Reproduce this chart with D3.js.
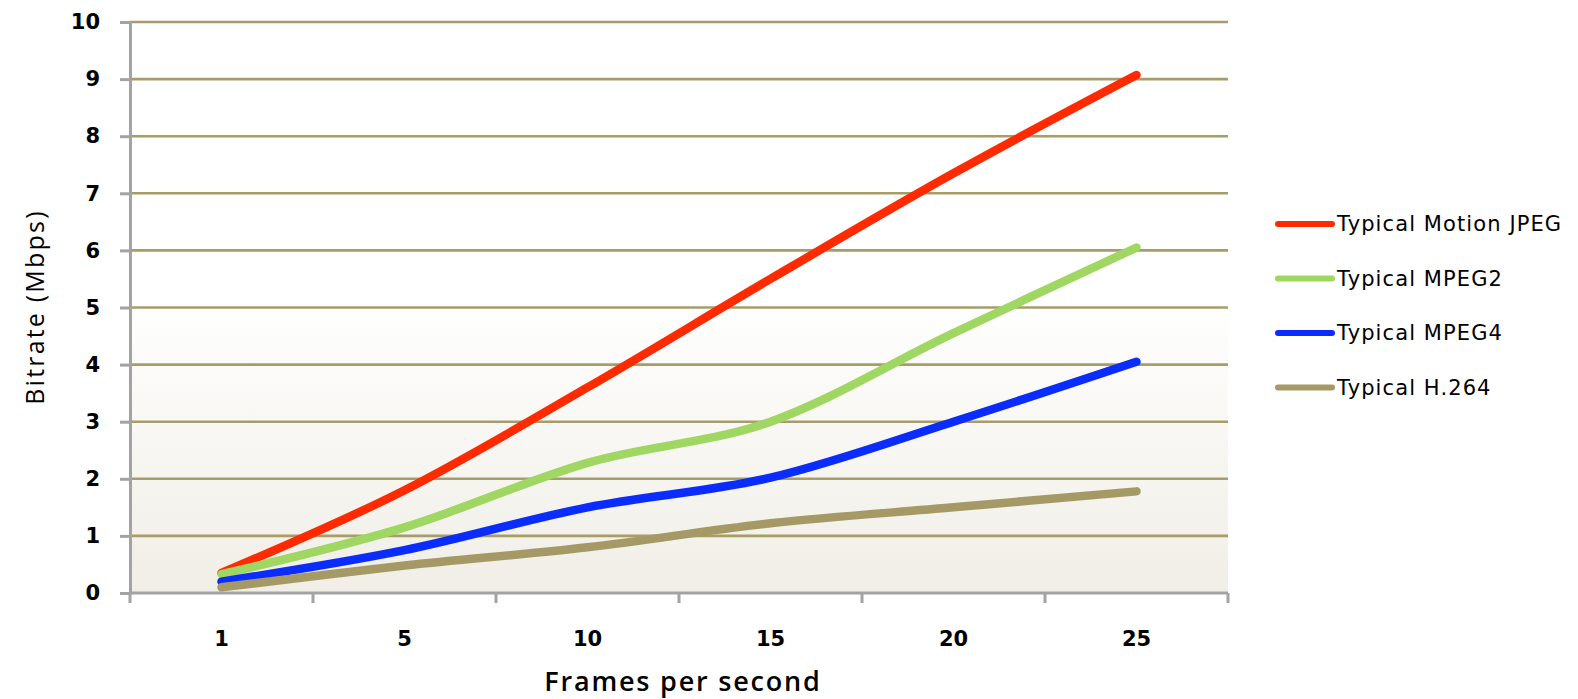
<!DOCTYPE html>
<html>
<head>
<meta charset="utf-8">
<script src="https://cdn.jsdelivr.net/npm/d3@7"></script>
<style>
  html, body { margin: 0; padding: 0; background: #fff; }
</style>
</head>
<body>
<script>
// chart values
const fps = ["1", "5", "10", "15", "20", "25"];
const motionJpeg = [0.35, 1.8, 3.6, 5.5, 7.35, 9.07];
const mpeg2 = [0.33, 1.15, 2.28, 3.0, 4.55, 6.05];
const mpeg4 = [0.2, 0.75, 1.5, 2.02, 3.0, 4.05];
const h264 = [0.1, 0.48, 0.8, 1.22, 1.5, 1.78];
const yTicks = [0, 1, 2, 3, 4, 5, 6, 7, 8, 9, 10];

const series = [
  { name: "Typical Motion JPEG", values: motionJpeg, color: "#ff2a00" },
  { name: "Typical MPEG2", values: mpeg2, color: "#a0d662" },
  { name: "Typical MPEG4", values: mpeg4, color: "#0b2cff" },
  { name: "Typical H.264", values: h264, color: "#a59a66" }
];

const width = 1578, height = 699;
const plotLeft = 130, plotRight = 1228, plotTop = 22, plotBottom = 593;

const svg = d3.select("body").append("svg")
  .attr("width", width)
  .attr("height", height);

let x = d3.scaleBand().domain(fps).range([plotLeft, plotRight]);
let y = d3.scaleLinear().domain([0, 10]).range([plotBottom, plotTop]);

// background gradient of the plot area
let grad = svg.append("defs").append("linearGradient")
  .attr("id", "bg").attr("x1", 0).attr("y1", 0).attr("x2", 0).attr("y2", 1);
grad.append("stop").attr("offset", "0%").attr("stop-color", "#ffffff");
grad.append("stop").attr("offset", "48%").attr("stop-color", "#ffffff");
grad.append("stop").attr("offset", "100%").attr("stop-color", "#f0eee6");

svg.append("rect")
  .attr("x", plotLeft).attr("y", plotTop)
  .attr("width", plotRight - plotLeft).attr("height", plotBottom - plotTop)
  .attr("fill", "url(#bg)");

// gridlines
svg.append("g")
  .selectAll("line")
  .data(yTicks.filter(d => d > 0))
  .join("line")
  .attr("x1", plotLeft).attr("x2", plotRight)
  .attr("y1", d => y(d)).attr("y2", d => y(d))
  .attr("stroke", "#a89d69")
  .attr("stroke-width", 2.6);

// y axis
let yAxis = svg.append("g")
  .attr("transform", `translate(${plotLeft},0)`)
  .call(d3.axisLeft(y).tickValues(yTicks).tickSize(10).tickPadding(20));
yAxis.select(".domain").attr("stroke", "#a3a3a3").attr("stroke-width", 3);
yAxis.selectAll(".tick line").attr("stroke", "#a3a3a3").attr("stroke-width", 3);
yAxis.selectAll("text")
  .style("font-family", "DejaVu Sans")
  .style("font-weight", "bold")
  .style("font-size", "21px")
  .attr("fill", "#000");

// x axis with ticks between categories
let xAxis = svg.append("g")
  .attr("transform", `translate(0,${plotBottom})`);
xAxis.append("line")
  .attr("x1", plotLeft).attr("x2", plotRight)
  .attr("stroke", "#a3a3a3").attr("stroke-width", 3);
xAxis.selectAll(".tk")
  .data(fps.concat(["end"]))
  .join("line")
  .attr("class", "tk")
  .attr("x1", (d, i) => plotLeft + i * x.bandwidth())
  .attr("x2", (d, i) => plotLeft + i * x.bandwidth())
  .attr("y1", 0).attr("y2", 10)
  .attr("stroke", "#a3a3a3").attr("stroke-width", 3);
xAxis.selectAll("text")
  .data(fps)
  .join("text")
  .attr("x", d => x(d) + x.bandwidth() / 2)
  .attr("y", 53)
  .attr("text-anchor", "middle")
  .style("font-family", "DejaVu Sans")
  .style("font-weight", "bold")
  .style("font-size", "21px")
  .text(d => d);

// series lines
let line = d3.line()
  .x((d, i) => x(fps[i]) + x.bandwidth() / 2)
  .y(d => y(d))
  .curve(d3.curveCatmullRom.alpha(0));

svg.append("g")
  .selectAll("path")
  .data(series)
  .join("path")
  .attr("d", d => line(d.values))
  .attr("fill", "none")
  .attr("stroke", d => d.color)
  .attr("stroke-width", 8.5)
  .attr("stroke-linecap", "round")
  .attr("stroke-linejoin", "round");

// axis titles
svg.append("text")
  .attr("transform", "translate(44,307) rotate(-90)")
  .attr("text-anchor", "middle")
  .style("font-family", "Open Sans")
  .style("font-size", "25px")
  .style("letter-spacing", "2.2px")
  .text("Bitrate (Mbps)");

svg.append("text")
  .attr("x", 683)
  .attr("y", 691)
  .attr("text-anchor", "middle")
  .style("font-family", "Open Sans")
  .style("font-weight", "600")
  .style("font-size", "27px")
  .style("letter-spacing", "1.8px")
  .text("Frames per second");

// legend
let legend = svg.append("g")
  .selectAll("g")
  .data(series)
  .join("g")
  .attr("transform", (d, i) => `translate(1278,${224 + i * 54.5})`);
legend.append("line")
  .attr("x1", 0).attr("x2", 54)
  .attr("stroke", d => d.color)
  .attr("stroke-width", 6)
  .attr("stroke-linecap", "round");
legend.append("text")
  .attr("x", 59)
  .attr("y", 7)
  .style("font-family", "DejaVu Sans")
  .style("font-size", "21px")
  .style("letter-spacing", "1.1px")
  .text(d => d.name);
</script>
</body>
</html>
